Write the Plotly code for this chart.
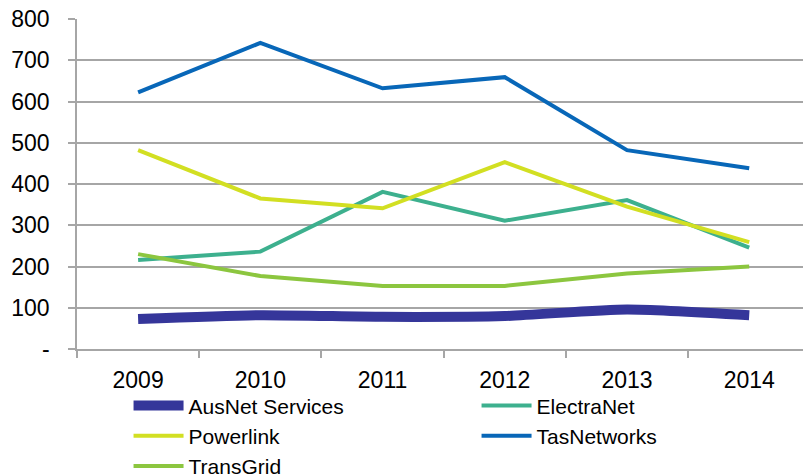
import plotly.graph_objects as go

years = ["2009", "2010", "2011", "2012", "2013", "2014"]
ausnet = [73, 82, 78, 80, 96, 82]
electranet = [216, 236, 381, 311, 361, 246]
powerlink = [482, 365, 341, 453, 345, 259]
tasnetworks = [622, 742, 632, 659, 482, 438]
transgrid = [230, 177, 153, 153, 183, 200]

ytickvals = [0, 100, 200, 300, 400, 500, 600, 700, 800]
yticktext = ["-", "100", "200", "300", "400", "500", "600", "700", "800"]

series = [
    ("AusNet Services", ausnet, "#35369A", 10, "spline"),
    ("ElectraNet", electranet, "#3DB08E", 4, "linear"),
    ("Powerlink", powerlink, "#D2DF22", 4, "linear"),
    ("TasNetworks", tasnetworks, "#0867B8", 4, "linear"),
    ("TransGrid", transgrid, "#8CC63F", 4, "linear"),
]

fig = go.Figure()
for name, vals, color, w, shape in series:
    fig.add_trace(go.Scatter(
        x=years, y=vals, name=name, mode="lines",
        line=dict(color=color, width=w, shape=shape, smoothing=0.6 if shape == "spline" else None),
    ))

font = "Liberation Sans, Arial, sans-serif"
fig.update_layout(
    width=803, height=476,
    margin=dict(l=77, r=0, t=19, b=127, autoexpand=False),
    plot_bgcolor="white", paper_bgcolor="white",
    showlegend=True,
    legend=dict(
        orientation="h", x=0.071, xanchor="left", y=-0.11, yanchor="top",
        bgcolor="rgba(0,0,0,0)",
        font=dict(family=font, size=21, color="#000000"),
        entrywidth=283, entrywidthmode="pixels",
        traceorder="normal", tracegroupgap=0, itemwidth=50,
    ),
    xaxis=dict(
        type="category", range=[-0.5, 5.44], automargin=False,
        showline=True, linecolor="#A6A6A6", linewidth=1.5,
        ticks="outside", tickson="boundaries", ticklen=7, tickcolor="#A6A6A6", tickwidth=1.5,
        showgrid=False, ticklabelstandoff=10,
        tickfont=dict(family=font, size=23, color="#000000"),
    ),
    yaxis=dict(
        range=[0, 800], tickvals=ytickvals, ticktext=yticktext, automargin=False,
        showline=True, linecolor="#A6A6A6", linewidth=1.5,
        ticks="outside", ticklen=7, tickcolor="#A6A6A6", tickwidth=1.5,
        showgrid=True, gridcolor="#A6A6A6", gridwidth=1.5,
        zeroline=False,
        ticklabelstandoff=14,
        tickfont=dict(family=font, size=23, color="#000000"),
    ),
)

fig.write_html("out.html", config={"displayModeBar": False},
               post_script="document.body.style.margin='0';")
